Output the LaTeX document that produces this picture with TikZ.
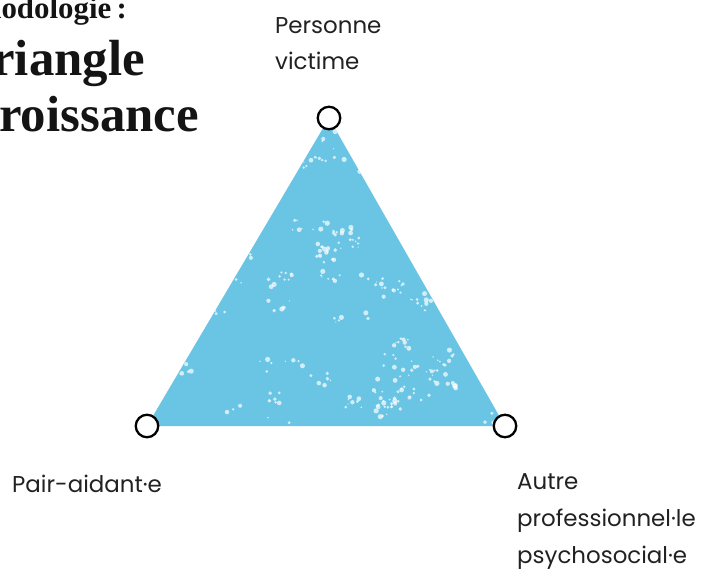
\documentclass[tikz,border=0pt]{standalone}
\usepackage{fontspec}
\setmainfont{Poppins}
\newfontfamily\titlefont{Liberation Serif}
\definecolor{triblue}{RGB}{106,197,228}
\tikzset{
  vertex/.style={circle, draw=black, fill=white, line width=2.3bp, minimum size=22.5bp, inner sep=0pt},
  lbl/.style={align=left, inner sep=0pt, text=black!87, font=\fontsize{23}{37}\selectfont},
  ttl/.style={inner sep=0pt, text=black!92, font=\titlefont\bfseries\fontsize{51}{56}\selectfont},
  subttl/.style={inner sep=0pt, text=black!92, font=\titlefont\bfseries\fontsize{31}{36}\selectfont},
  speck/.style={fill=white, opacity=0.7}
}
\begin{document}
\begin{tikzpicture}[x=1bp,y=-1bp]
\useasboundingbox (0,0) rectangle (707,571);
% vertices
\coordinate (A) at (329,118);
\coordinate (B) at (147,426);
\coordinate (C) at (505,426);
% triangle
\fill[triblue] (A) -- (B) -- (C) -- cycle;
\begin{scope}
  \clip (A) -- (B) -- (C) -- cycle;
  \pgfmathsetseed{42}
  \foreach \k in {1,...,95}{
    \pgfmathsetmacro{\cx}{150+rnd*355}
    \pgfmathsetmacro{\cy}{125+rnd*300}
    \pgfmathsetmacro{\nn}{int(2+rnd*8)}
    \foreach \j in {1,...,\nn}{
      \pgfmathsetmacro{\dx}{(rnd-0.5)*24}
      \pgfmathsetmacro{\dy}{(rnd-0.5)*14}
      \pgfmathsetmacro{\rr}{0.6+rnd*2.0}
      \fill[speck] (\cx+\dx,\cy+\dy) circle[radius=\rr];
    }
  }
\end{scope}
% vertex circles
\node[vertex] (top) at (A) {};
\node[vertex] (left) at (B) {};
\node[vertex] (right) at (C) {};
% labels
\node[lbl, anchor=base west] (lv) at (275,70) {Personne\\victime};
\node[lbl, anchor=base west] (lp) at (12,492) {Pair-aidant·e};
\node[lbl, anchor=base west] (la) at (517,563) {Autre\\professionnel·le\\psychosocial·e};
% title (cropped at left edge)
\node[subttl, anchor=base east] (t1) at (127,19) {Méthodologie\,:};
\node[ttl, anchor=base east] (t2) at (145,76) {Triangle};
\node[ttl, anchor=base east] (t3) at (199,132) {de croissance};
\end{tikzpicture}
\end{document}
